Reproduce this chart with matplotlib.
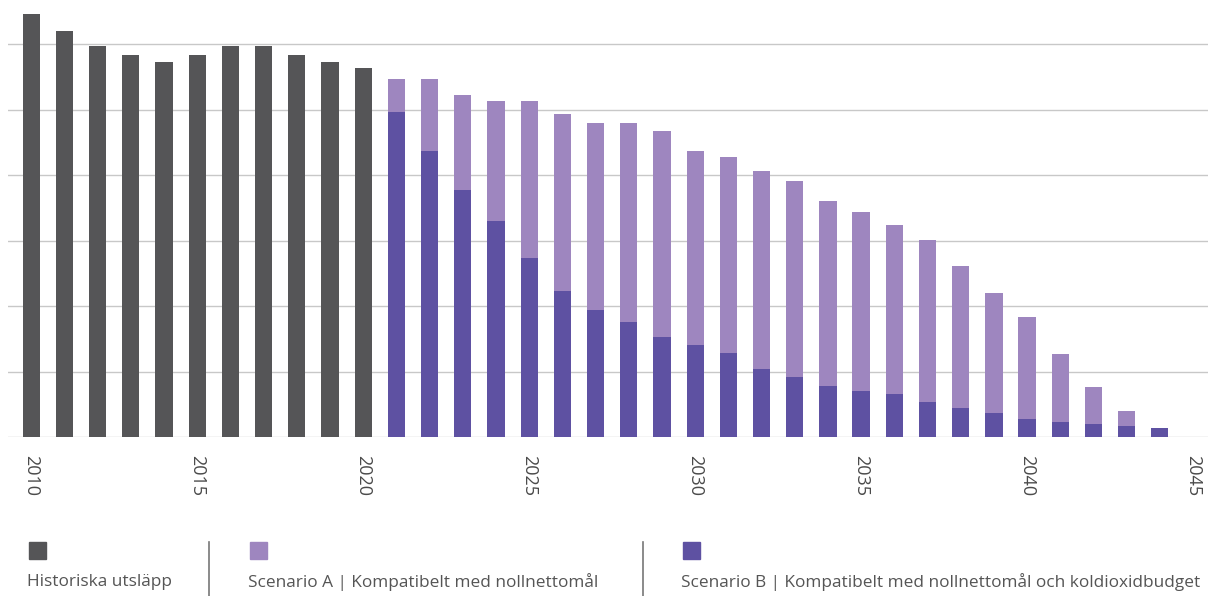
import numpy as np
import matplotlib.pyplot as plt
from matplotlib.patches import Rectangle
from matplotlib.lines import Line2D

plt.rcParams['font.family'] = ['Open Sans', 'DejaVu Sans']

# historical emissions (grid step = 10)
hist_years = list(range(2010, 2021))
hist_vals = [64.7, 62.0, 59.7, 58.4, 57.3, 58.4, 59.7, 59.7, 58.4, 57.3, 56.3]

# scenarios
scen_years = list(range(2021, 2045))
scen_a = [54.7, 54.7, 52.3, 51.3, 51.3, 49.4, 48.0, 48.0, 46.8, 43.7, 42.8, 40.7,
          39.1, 36.1, 34.4, 32.4, 30.1, 26.2, 22.0, 18.3, 12.7, 7.7, 4.0, 1.4]
scen_b = [49.7, 43.7, 37.8, 33.0, 27.4, 22.3, 19.4, 17.5, 15.3, 14.1, 12.9, 10.4,
          9.1, 7.8, 7.1, 6.5, 5.4, 4.5, 3.7, 2.8, 2.3, 2.0, 1.7, 1.4]

tick_years = list(range(2010, 2046, 5))

labels = ["Historiska utsläpp",
          "Scenario A | Kompatibelt med nollnettomål",
          "Scenario B | Kompatibelt med nollnettomål och koldioxidbudget"]
c_hist = '#555557'
c_a = '#9e86bf'
c_b = '#5e51a2'

W, H = 1216, 596
fig = plt.figure(figsize=(W / 100, H / 100), dpi=100)
ax = fig.add_axes([8 / W, (H - 437) / H, 1200 / W, 432 / H])

bw = 0.52
ax.bar(hist_years, hist_vals, width=bw, color=c_hist, zorder=3)
ax.bar(scen_years, scen_a, width=bw, color=c_a, zorder=3)
ax.bar(scen_years, scen_b, width=bw, color=c_b, zorder=4)

ax.set_xlim(2009.3, 2045.45)
ax.set_ylim(0, 66)
ax.set_yticks(np.arange(0, 61, 10))
ax.yaxis.grid(True, color='#c8c8c8', linewidth=1.0, zorder=0)
ax.tick_params(axis='y', length=0, labelleft=False)
ax.set_xticks(tick_years)
ax.set_xticklabels([str(y) for y in tick_years], rotation=-90, fontsize=13, color='#4a4a4a')
ax.tick_params(axis='x', length=0, pad=13)
for s in ax.spines.values():
    s.set_visible(False)

# legend at the bottom
def px(x, y):
    return x / W, 1 - y / H

sq_x = [29, 250, 683]
for x, c, lab in zip(sq_x, [c_hist, c_a, c_b], labels):
    fx, fy = px(x, 559)
    fig.add_artist(Rectangle((fx, fy), 17 / W, 17 / H, transform=fig.transFigure,
                             color=c, zorder=5))
    tx, ty = px(x - 2, 582)
    fig.text(tx, ty, lab, fontsize=12.4, color='#555555', va='center', ha='left')

for x in [209, 643]:
    x0, y0 = px(x, 542)
    x1, y1 = px(x, 596)
    fig.add_artist(Line2D([x0, x1], [y0, y1], transform=fig.transFigure,
                          color='#777777', linewidth=1.2))

fig.savefig('out.png', dpi=100)
